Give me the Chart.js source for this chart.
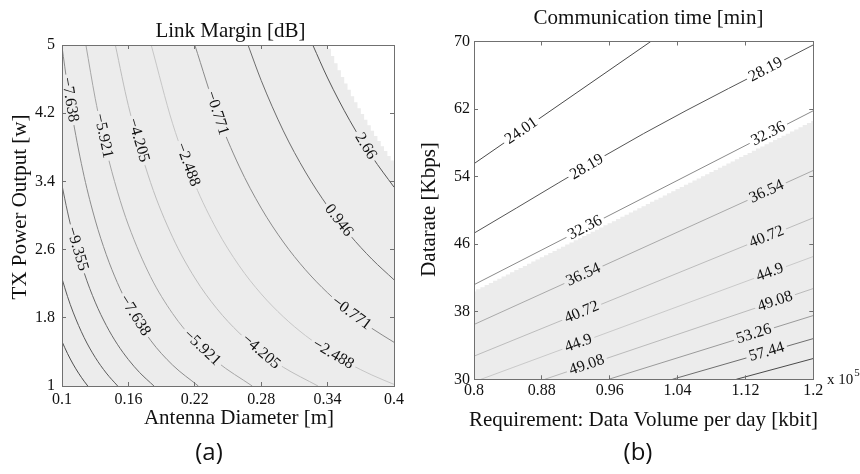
<!DOCTYPE html>
<html>
<head>
<meta charset="utf-8">
<script src="https://cdn.jsdelivr.net/npm/chart.js@4.4.1/dist/chart.umd.min.js"></script>
<style>
  html, body { margin: 0; padding: 0; background: #fff; }
  #wrap { position: relative; width: 860px; height: 474px; overflow: hidden; }
  .panel { position: absolute; top: 0; height: 474px; }
  #pa { left: 0; width: 412px; }
  #pb { left: 412px; width: 448px; }
  .tag { position: absolute; top: 436px; width: 100px; text-align: center;
         font: 24px "Open Sans", "Noto Sans", sans-serif; line-height: 30px; color: #111; }
</style>
</head>
<body>
<div id="wrap">
  <div class="panel" id="pa"><canvas id="ca" width="412" height="474"></canvas></div>
  <div class="panel" id="pb"><canvas id="cb" width="448" height="474"></canvas></div>
  <div class="tag" style="left:159px">(a)</div>
  <div class="tag" style="left:588px">(b)</div>
</div>
<script>
// ---------- (a) Link margin vs antenna diameter and TX power ----------
const diamTickLabels  = ['0.1', '0.16', '0.22', '0.28', '0.34', '0.4'];
const powerTickLabels = ['1', '1.8', '2.6', '3.4', '4.2', '5'];

const marginLevels = [-12.789, -11.072, -9.355, -7.638, -5.921, -4.205, -2.488, -0.771, 0.946, 2.66];

// contour paths: antenna diameter [m] ...
const marginCurveD = [
  [0.1, 0.105, 0.11, 0.115, 0.12, 0.1233],
  [0.1, 0.105, 0.11, 0.12, 0.13, 0.14, 0.1503],
  [0.1, 0.105, 0.11, 0.12, 0.13, 0.14, 0.15, 0.16, 0.17, 0.1831],
  [0.1, 0.105, 0.11, 0.12, 0.13, 0.14, 0.15, 0.16, 0.18, 0.2, 0.2232],
  [0.1216, 0.13, 0.14, 0.15, 0.16, 0.18, 0.2, 0.22, 0.24, 0.2719],
  [0.1482, 0.16, 0.18, 0.2, 0.22, 0.24, 0.26, 0.28, 0.3, 0.3313],
  [0.1806, 0.2, 0.22, 0.24, 0.26, 0.28, 0.3, 0.32, 0.34, 0.36, 0.38, 0.4],
  [0.22, 0.24, 0.26, 0.28, 0.3, 0.32, 0.34, 0.36, 0.38, 0.4],
  [0.2681, 0.28, 0.3, 0.32, 0.34, 0.36, 0.38, 0.4],
  [0.3266, 0.34, 0.36, 0.38, 0.4]
];
// ... and the matching TX power output [W]
const marginCurveP = [
  [1.521, 1.380, 1.257, 1.150, 1.056, 1.0],
  [2.259, 2.049, 1.867, 1.568, 1.336, 1.152, 1.0],
  [3.354, 3.042, 2.772, 2.329, 1.984, 1.711, 1.490, 1.310, 1.160, 1.0],
  [4.980, 4.517, 4.116, 3.458, 2.947, 2.541, 2.213, 1.945, 1.537, 1.245, 1.0],
  [5.0, 4.375, 3.772, 3.286, 2.888, 2.282, 1.849, 1.528, 1.284, 1.0],
  [5.0, 4.288, 3.388, 2.744, 2.268, 1.906, 1.624, 1.400, 1.220, 1.0],
  [5.0, 4.076, 3.369, 2.831, 2.412, 2.080, 1.812, 1.592, 1.410, 1.258, 1.129, 1.019],
  [5.0, 4.201, 3.580, 3.087, 2.689, 2.363, 2.093, 1.867, 1.676, 1.513],
  [5.0, 4.584, 3.993, 3.510, 3.109, 2.773, 2.489, 2.246],
  [5.0, 4.613, 4.115, 3.693, 3.333]
];

// edge of the shaded (feasible) region
const marginEdgeD = [0.1, 0.340, 0.343, 0.346, 0.349, 0.352, 0.355, 0.358, 0.361, 0.364, 0.367,
                     0.370, 0.373, 0.376, 0.379, 0.382, 0.385, 0.388, 0.391, 0.394, 0.397, 0.400];
const marginEdgeP = [5, 5, 4.955, 4.870, 4.787, 4.705, 4.626, 4.549, 4.474, 4.400, 4.329,
                     4.259, 4.190, 4.124, 4.059, 3.995, 3.933, 3.873, 3.813, 3.756, 3.699, 3.644];

// inline labels: which contour, and the diameter where the label sits
const marginLabelLevel = [3, 4, 5, 6, 7, 9, 8, 2, 3, 4, 5, 6, 7];
const marginLabelD     = [0.107, 0.1373, 0.169, 0.2136, 0.240, 0.3743, 0.350,
                          0.1137, 0.1658, 0.2265, 0.2798, 0.345, 0.3614];

// ---------- (b) Communication time vs data volume and datarate ----------
const volumeTickLabels = ['0.8', '0.88', '0.96', '1.04', '1.12', '1.2'];
const rateTickLabels   = ['30', '38', '46', '54', '62', '70'];

const timeLevels = [24.01, 28.19, 32.36, 36.54, 40.72, 44.9, 49.08, 53.26, 57.44, 61.62];
const timeLineV = [
  [0.8, 1.0084], [0.8, 1.0, 1.2], [0.8, 1.2], [0.8, 1.2], [0.8, 1.2],
  [0.8082, 1.2], [0.8834, 1.2], [0.9587, 1.2], [1.0339, 1.2], [1.1092, 1.2]
];
const timeLineR = [
  [55.53, 70], [47.30, 59.10, 69.6], [41.20, 61.80], [36.49, 54.73], [32.74, 49.12],
  [30, 44.54], [30, 40.75], [30, 37.55], [30, 34.82], [30, 32.46]
];

const timeEdgeV = [
  0.800, 0.805, 0.810, 0.815, 0.820, 0.825, 0.830, 0.835, 0.840, 0.845,
  0.850, 0.855, 0.860, 0.865, 0.870, 0.875, 0.880, 0.885, 0.890, 0.895,
  0.900, 0.905, 0.910, 0.915, 0.920, 0.925, 0.930, 0.935, 0.940, 0.945,
  0.950, 0.955, 0.960, 0.965, 0.970, 0.975, 0.980, 0.985, 0.990, 0.995,
  1.000, 1.005, 1.010, 1.015, 1.020, 1.025, 1.030, 1.035, 1.040, 1.045,
  1.050, 1.055, 1.060, 1.065, 1.070, 1.075, 1.080, 1.085, 1.090, 1.095,
  1.100, 1.105, 1.110, 1.115, 1.120, 1.125, 1.130, 1.135, 1.140, 1.145,
  1.150, 1.155, 1.160, 1.165, 1.170, 1.175, 1.180, 1.185, 1.190, 1.195, 1.200
];
const timeEdgeR = [
  40.40, 40.65, 40.91, 41.16, 41.41, 41.66, 41.92, 42.17, 42.42, 42.67,
  42.93, 43.18, 43.43, 43.68, 43.94, 44.19, 44.44, 44.69, 44.95, 45.20,
  45.45, 45.70, 45.96, 46.21, 46.46, 46.71, 46.97, 47.22, 47.47, 47.72,
  47.98, 48.23, 48.48, 48.73, 48.99, 49.24, 49.49, 49.74, 50.00, 50.25,
  50.50, 50.75, 51.01, 51.26, 51.51, 51.76, 52.02, 52.27, 52.52, 52.77,
  53.03, 53.28, 53.53, 53.78, 54.04, 54.29, 54.54, 54.79, 55.05, 55.30,
  55.55, 55.80, 56.06, 56.31, 56.56, 56.81, 57.07, 57.32, 57.57, 57.82,
  58.08, 58.33, 58.58, 58.83, 59.09, 59.34, 59.59, 59.84, 60.10, 60.35, 60.60
];

const timeLabelLevel = [0, 1, 1, 2, 2, 3, 3, 4, 4, 5, 5, 6, 6, 7, 8];
const timeLabelV     = [0.856, 0.933, 1.144, 0.931, 1.147, 0.929, 1.145, 0.927, 1.145,
                        0.923, 1.149, 0.933, 1.155, 1.13, 1.145];

// ---------- styling ----------
const AXIS = '#707070';
const TXT = '#111111';
const SHADE = '#ececec';
const SERIF = '"Liberation Serif", "Times New Roman", serif';
const LABEL_FONT = '16px ' + SERIF;
const TITLE_FONT = '21px ' + SERIF;
const marginLineColors = ['#4d4d4d', '#5a5a5a', '#6a6a6a', '#8c8c8c', '#a6a6a6',
                          '#bdbdbd', '#c6c6c6', '#8a8a8a', '#6c6c6c', '#575757'];
const timeLineColors = ['#4a4a4a', '#555555', '#8a8a8a', '#a9a9a9', '#bcbcbc',
                        '#c9c9c9', '#bababa', '#9a9a9a', '#6e6e6e', '#4a4a4a'];

function points(xs, ys) { return xs.map((x, i) => ({ x, y: ys[i] })); }

function buildDatasets(levels, curveX, curveY, colors, edgeX, edgeY, edgeStep) {
  const sets = levels.map((lv, k) => ({
    label: String(lv),
    data: points(curveX[k], curveY[k]),
    xAxisID: 'x', yAxisID: 'y',
    borderColor: colors[k], borderWidth: 1,
    pointRadius: 0, fill: false,
    cubicInterpolationMode: 'monotone'
  }));
  // shaded region, drawn first (last in the list)
  sets.push({
    label: 'region',
    data: points(edgeX, edgeY),
    xAxisID: 'x', yAxisID: 'y',
    borderWidth: 0, borderColor: 'rgba(0,0,0,0)',
    pointRadius: 0, stepped: edgeStep,
    fill: 'start', backgroundColor: SHADE
  });
  return sets;
}

function buildScales(g) {
  const xVals = g.xLabels.map(Number), yVals = g.yLabels.map(Number);
  const setTicks = vals => axis => { axis.ticks = vals.map(v => ({ value: v })); };
  const grid = () => ({ drawOnChartArea: false, drawTicks: true, tickLength: -4, color: AXIS, lineWidth: 1, z: 1 });
  const border = () => ({ display: true, color: AXIS, width: 1, z: 1 });
  const tickFont = { family: SERIF, size: 16 };
  return {
    x: {
      type: 'linear', position: 'bottom', min: g.xMin, max: g.xMax,
      afterBuildTicks: setTicks(xVals),
      ticks: { autoSkip: false, maxRotation: 0, padding: g.xPad, color: TXT, font: tickFont, z: 1,
               callback: (v, i) => g.xLabels[i] },
      grid: grid(), border: border(),
      afterFit: a => { a.height = g.xHeight; }
    },
    y: {
      type: 'linear', position: 'left', min: g.yMin, max: g.yMax,
      afterBuildTicks: setTicks(yVals),
      ticks: { autoSkip: false, padding: g.yPad, color: TXT, font: tickFont, z: 1,
               callback: (v, i) => g.yLabels[i] },
      grid: grid(), border: border(),
      afterFit: a => { a.width = 62; }
    },
    x2: {
      type: 'linear', position: 'top', min: g.xMin, max: g.xMax,
      afterBuildTicks: setTicks(xVals),
      ticks: { display: false }, grid: grid(), border: border(),
      afterFit: a => { a.height = 0; }
    },
    y2: {
      type: 'linear', position: 'right', min: g.yMin, max: g.yMax,
      afterBuildTicks: setTicks(yVals),
      ticks: { display: false }, grid: grid(), border: border(),
      afterFit: a => { a.width = 0; }
    }
  };
}

// inline contour labels: the line is broken under each label, text follows the line
function contourLabels(levelIdx, anchors) {
  let boxes = [];
  const fmt = s => s.replace('-', '\u2212');
  return {
    id: 'contourLabels',
    beforeDatasetsDraw(chart) {
      const { ctx } = chart;
      const xs = chart.scales.x, ys = chart.scales.y;
      ctx.save();
      ctx.font = LABEL_FONT;
      boxes = anchors.map((ax, j) => {
        const k = levelIdx[j];
        const ds = chart.data.datasets[k];
        const pts = ds.data.map(p => ({ x: xs.getPixelForValue(p.x), y: ys.getPixelForValue(p.y) }));
        const px = xs.getPixelForValue(ax);
        let i = 0;
        while (i < pts.length - 2 && pts[i + 1].x < px) i++;
        const a = pts[i], b = pts[i + 1];
        const t = (px - a.x) / (b.x - a.x);
        let ang = Math.atan2(b.y - a.y, b.x - a.x);
        if (ang > Math.PI / 2) ang -= Math.PI;
        if (ang <= -Math.PI / 2) ang += Math.PI;
        const text = fmt(ds.label);
        return { k, text, cx: px, cy: a.y + t * (b.y - a.y), ang,
                 w: ctx.measureText(text).width + 6, h: 14 };
      });
      ctx.restore();
    },
    beforeDatasetDraw(chart, args) {
      const own = boxes.filter(b => b.k === args.index);
      if (!own.length) return;
      const ctx = chart.ctx;
      ctx.save();
      ctx.beginPath();
      ctx.rect(0, 0, chart.width, chart.height);
      own.forEach(b => {
        const c = Math.cos(b.ang), s = Math.sin(b.ang);
        const hw = b.w / 2, hh = b.h / 2;
        const cs = [[-hw, -hh], [hw, -hh], [hw, hh], [-hw, hh]]
          .map(([u, v]) => [b.cx + u * c - v * s, b.cy + u * s + v * c]);
        ctx.moveTo(cs[0][0], cs[0][1]);
        for (let n = 1; n < 4; n++) ctx.lineTo(cs[n][0], cs[n][1]);
        ctx.closePath();
      });
      ctx.clip('evenodd');
    },
    afterDatasetDraw(chart, args) {
      if (boxes.some(b => b.k === args.index)) chart.ctx.restore();
    },
    afterDatasetsDraw(chart) {
      const ctx = chart.ctx;
      ctx.save();
      ctx.font = LABEL_FONT;
      ctx.fillStyle = TXT;
      ctx.textAlign = 'center';
      ctx.textBaseline = 'middle';
      boxes.forEach(b => {
        ctx.save();
        ctx.translate(b.cx, b.cy);
        ctx.rotate(b.ang);
        ctx.fillText(b.text, 0, 0);
        ctx.restore();
      });
      ctx.restore();
    }
  };
}

// panel heading, axis titles and the optional axis multiplier note
function captions(t) {
  return {
    id: 'captions',
    afterDraw(chart) {
      const ctx = chart.ctx;
      ctx.save();
      ctx.fillStyle = TXT;
      ctx.font = TITLE_FONT;
      ctx.textAlign = 'center';
      ctx.textBaseline = 'middle';
      ctx.fillText(t.title, t.titleAt[0], t.titleAt[1]);
      ctx.fillText(t.xTitle, t.xTitleAt[0], t.xTitleAt[1]);
      ctx.save();
      ctx.translate(t.yTitleAt[0], t.yTitleAt[1]);
      ctx.rotate(-Math.PI / 2);
      ctx.fillText(t.yTitle, 0, 0);
      ctx.restore();
      if (t.note) {
        ctx.textAlign = 'left';
        ctx.textBaseline = 'alphabetic';
        ctx.font = '15px ' + SERIF;
        ctx.fillText(t.note.base, t.note.x, t.note.y);
        const w = ctx.measureText(t.note.base).width;
        ctx.font = '11px ' + SERIF;
        ctx.fillText(t.note.exp, t.note.x + w + 1, t.note.y - 8);
      }
      ctx.restore();
    }
  };
}

const baseOptions = {
  responsive: false,
  animation: false,
  events: [],
  plugins: { legend: { display: false }, tooltip: { enabled: false } }
};

new Chart(document.getElementById('ca'), {
  type: 'line',
  data: { datasets: buildDatasets(marginLevels, marginCurveD, marginCurveP, marginLineColors,
                                  marginEdgeD, marginEdgeP, 'after') },
  options: Object.assign({}, baseOptions, {
    layout: { padding: { left: 0, top: 45, right: 11, bottom: 44 } },
    scales: buildScales({
      xLabels: diamTickLabels, yLabels: powerTickLabels,
      xMin: 0.1, xMax: 0.4, yMin: 1, yMax: 5,
      xPad: 8, yPad: 11, xHeight: 44
    })
  }),
  plugins: [
    contourLabels(marginLabelLevel, marginLabelD),
    captions({
      title: 'Link Margin [dB]', titleAt: [230.5, 31],
      xTitle: 'Antenna Diameter [m]', xTitleAt: [239, 418],
      yTitle: 'TX Power Output [w]', yTitleAt: [20, 207]
    })
  ]
});

new Chart(document.getElementById('cb'), {
  type: 'line',
  data: { datasets: buildDatasets(timeLevels, timeLineV, timeLineR, timeLineColors,
                                  timeEdgeV, timeEdgeR, 'middle') },
  options: Object.assign({}, baseOptions, {
    layout: { padding: { left: 0, top: 41.5, right: 46.7, bottom: 41.7 } },
    scales: buildScales({
      xLabels: volumeTickLabels, yLabels: rateTickLabels,
      xMin: 0.8, xMax: 1.2, yMin: 30, yMax: 70,
      xPad: 6, yPad: 8, xHeight: 53
    })
  }),
  plugins: [
    contourLabels(timeLabelLevel, timeLabelV),
    captions({
      title: 'Communication time [min]', titleAt: [236.5, 18],
      xTitle: 'Requirement: Data Volume per day [kbit]', xTitleAt: [231.5, 420],
      yTitle: 'Datarate [Kbps]', yTitleAt: [17, 209.5],
      note: { base: 'x 10', exp: '5', x: 415, y: 384 }
    })
  ]
});
</script>
</body>
</html>
